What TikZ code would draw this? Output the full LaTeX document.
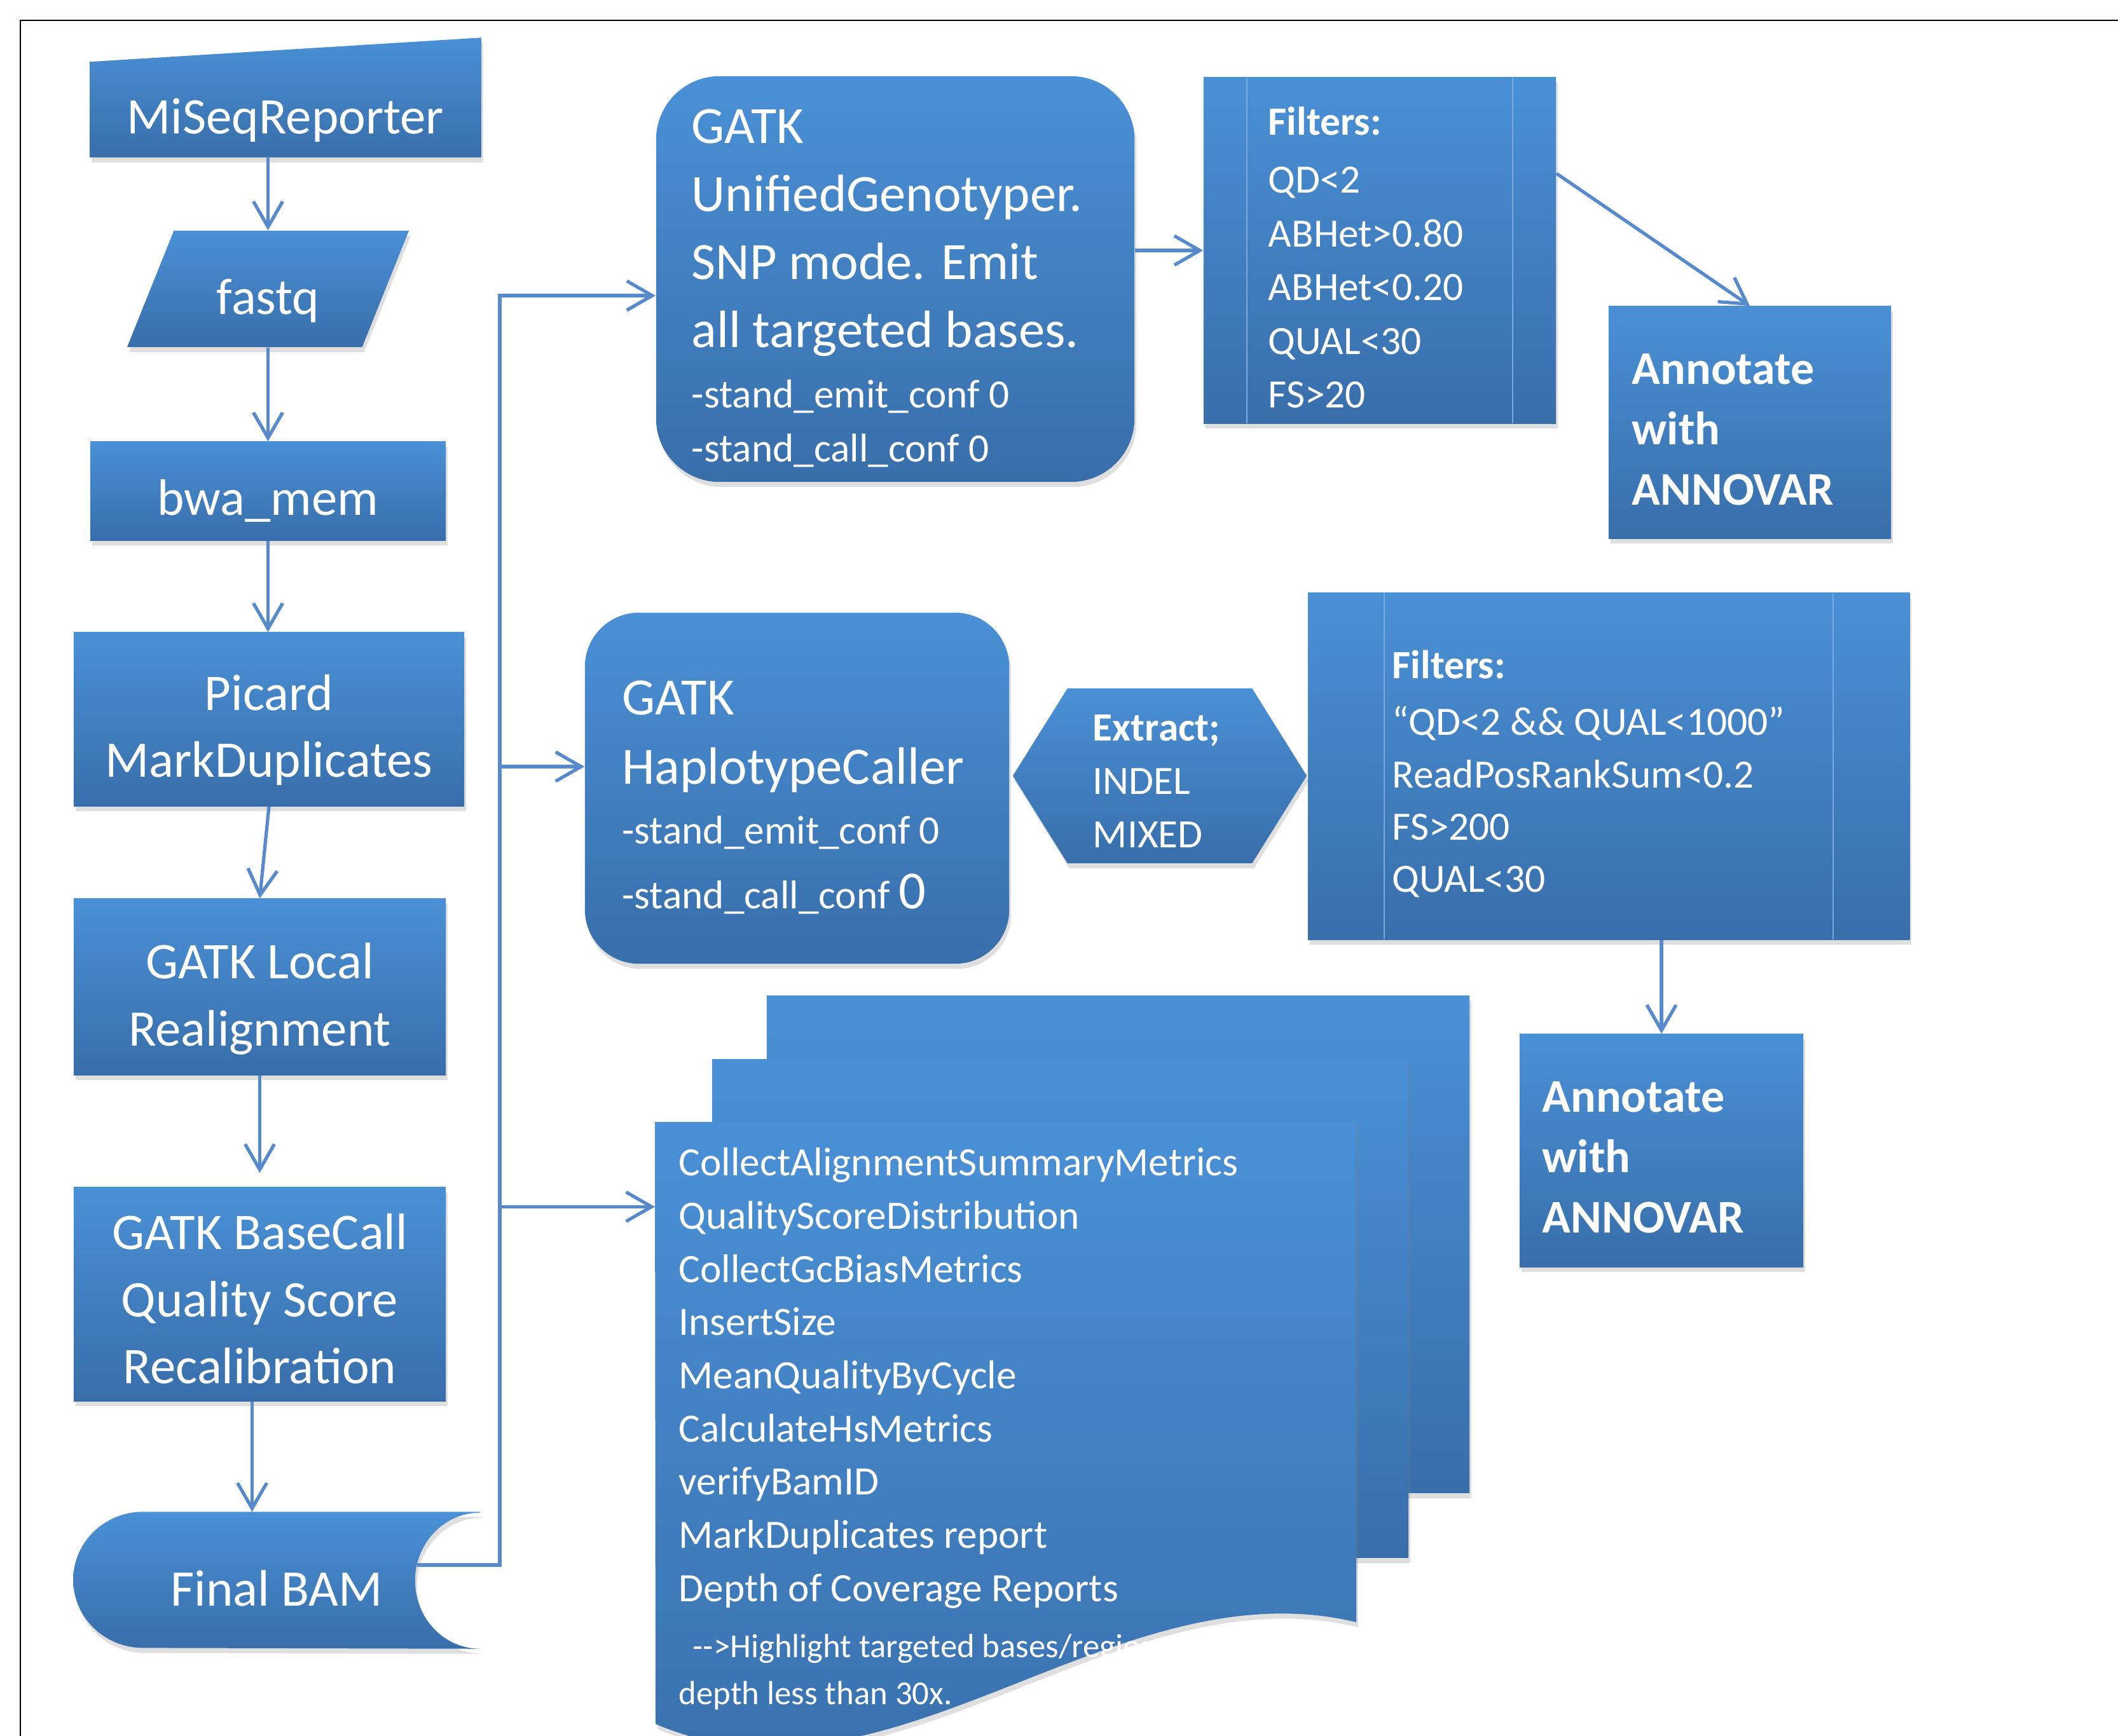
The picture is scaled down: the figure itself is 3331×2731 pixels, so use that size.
\documentclass[tikz,border=0pt]{standalone}
\usepackage{fontspec}
\setmainfont{Carlito}
\setlength{\parindent}{0pt}
\usetikzlibrary{shapes.geometric,shapes.symbols,shadows,backgrounds,arrows.meta}

\definecolor{boxtop}{RGB}{74,144,214}
\definecolor{boxbottom}{RGB}{56,110,170}
\definecolor{boxline}{RGB}{120,170,225}
\definecolor{linkblue}{RGB}{86,138,204}

\def\bigtext{\fontsize{23}{30}\selectfont}
\def\gatktext{\fontsize{23.5}{30.5}\selectfont}
\def\smalltext{\fontsize{18}{24}\selectfont}
\def\annotext{\fontsize{21}{27}\selectfont\bfseries}
\def\dropby#1{\endgraf\nointerlineskip\vspace*{#1}}

\begin{document}
\begin{tikzpicture}[x=0.01cm, y=-0.01cm,
	bluebox/.style={rectangle, top color=boxtop, bottom color=boxbottom,
		text=white, inner sep=0pt,
		drop shadow={shadow xshift=0.03cm, shadow yshift=-0.08cm, opacity=0.25}},
	plain/.style={rectangle, text=white, inner sep=0pt},
	pagefill/.style={top color=boxtop, bottom color=boxbottom,
		drop shadow={shadow xshift=0.03cm, shadow yshift=-0.08cm, opacity=0.25}},
	textdrop/.style={execute at begin node={\dropby{#1}}},
	stepbox/.style={bluebox, align=flush center, font=\bigtext},
	procbox/.style={bluebox, path picture={
		\draw[boxline, line width=0.6pt]
			([xshift=#1]path picture bounding box.north west) -- ([xshift=#1]path picture bounding box.south west)
			([xshift=-#1]path picture bounding box.north east) -- ([xshift=-#1]path picture bounding box.south east);
		}},
	flow/.style={draw=linkblue, line width=1.5pt, -{Straight Barb[length=4mm, width=4.6mm]}},
	]
	\useasboundingbox (0,0) rectangle (3331,2731);
	\draw[line width=0.6pt] (32,2731) -- (32,32) -- (3331,32);

	% left column
	\node[plain, minimum width=6.14cm, minimum height=1.49cm, font=\bigtext, text width=6cm,
		align=flush center, textdrop=0.33cm] (mi) at (449,172.5) {MiSeqReporter};
	\node[stepbox, trapezium, trapezium left angle=65, trapezium right angle=115, trapezium stretches=true,
		minimum width=4.45cm, minimum height=1.83cm, text width=2cm, textdrop=0.38cm] (fastq) at (421.5,454.5) {fastq};
	\node[stepbox, minimum width=5.59cm, minimum height=1.55cm, text width=5.4cm, textdrop=0.3cm] (bwa) at (421.5,772.5) {bwa\_mem};
	\node[stepbox, minimum width=6.14cm, minimum height=2.73cm, text width=6cm, textdrop=0.34cm] (picard) at (423,1131.5) {Picard\\MarkDuplicates};
	\node[stepbox, minimum width=5.85cm, minimum height=2.77cm, text width=5.7cm, textdrop=0.38cm] (local) at (408.5,1552.5) {GATK Local\\Realignment};
	\node[stepbox, minimum width=5.85cm, minimum height=3.36cm, text width=5.7cm, textdrop=0.15cm] (bqsr) at (408.5,2036) {GATK BaseCall\\Quality Score\\Recalibration};
	\node[plain, minimum width=6.38cm, minimum height=2.14cm, font=\bigtext, text width=6cm,
		align=flush center, textdrop=0.26cm] (bam) at (435,2486) {Final BAM};

	% SNP branch
	\node[bluebox, rounded corners=1cm, minimum width=7.52cm, minimum height=6.38cm,
		text width=6.4cm, align=flush left, textdrop=0.28cm] (ug) at (1408,439) {%
		{\gatktext GATK\par UnifiedGenotyper.\par SNP mode. Emit\par all targeted bases.\par}
		{\fontsize{18}{27}\selectfont -stand\_emit\_conf 0\par}
		{\fontsize{18}{24}\selectfont -stand\_call\_conf 0\par}};
	\node[procbox=0.68cm, minimum width=5.54cm, minimum height=5.44cm, text width=3.5cm,
		align=flush left, font=\smalltext, textdrop=0.22cm] (f1) at (2170,394)
		{\textbf{Filters:}\\[2pt] QD<2\\ ABHet>0.80\\ ABHet<0.20\\ QUAL<30\\ FS>20};
	\node[bluebox, minimum width=4.44cm, minimum height=3.65cm, text width=3.7cm,
		align=flush left, font=\annotext, textdrop=0.22cm] (ann1) at (2752,664.5) {Annotate\\with\\ANNOVAR};

	% INDEL branch
	\node[bluebox, rounded corners=0.85cm, minimum width=6.67cm, minimum height=5.52cm,
		text width=5.5cm, align=flush left, textdrop=0.29cm] (hc) at (1253.5,1240) {%
		{\fontsize{23.5}{31}\selectfont GATK\par HaplotypeCaller\par}
		{\fontsize{18}{26.7}\selectfont -stand\_emit\_conf 0\par}
		{\fontsize{18}{29}\selectfont -stand\_call\_conf {\fontsize{24}{24}\selectfont 0}\par}};
	\node[bluebox, signal, signal to=west and east, signal pointer angle=116,
		minimum width=4.62cm, minimum height=2.75cm, text width=2.1cm, align=flush left,
		font=\smalltext, textdrop=0.17cm] (ext) at (1824,1220.5)
		{\textbf{Extract;}\\ INDEL\\ MIXED};
	\node[procbox=1.2cm, minimum width=9.46cm, minimum height=5.45cm, text width=6.8cm,
		align=flush left, font=\fontsize{18}{23.4}\selectfont, textdrop=0.24cm] (f2) at (2530,1205.5)
		{\textbf{Filters:}\\[2pt] “QD<2 \&\& QUAL<1000”\\ ReadPosRankSum<0.2\\ FS>200\\ QUAL<30};
	\node[bluebox, minimum width=4.46cm, minimum height=3.66cm, text width=3.74cm,
		align=flush left, font=\annotext, textdrop=0.22cm] (ann2) at (2613,1810) {Annotate\\with\\ANNOVAR};

	% QC reports
	\node[plain, minimum width=11.01cm, minimum height=7.85cm] (qc) at (1581.5,2158.5) {};
	\node[plain, anchor=north west, text width=11cm, align=flush left] (qclist) at (1067,1805) {%
		{\fontsize{18}{23.8}\selectfont CollectAlignmentSummaryMetrics\par
		QualityScoreDistribution\par
		CollectGcBiasMetrics\par
		InsertSize\par
		MeanQualityByCycle\par
		CalculateHsMetrics\par
		verifyBamID\par
		MarkDuplicates report\par
		Depth of Coverage Reports\par}
		{\fontsize{15}{25}\selectfont \hspace*{0.22cm}\mbox{-}\mbox{-}>Highlight targeted bases/regions with\par}
		{\fontsize{15}{21}\selectfont depth less than 30x.\par}};

	\begin{pgfonlayer}{background}
		\shade[pagefill] (mi.south west) -- (mi.south east) -- ([yshift=0.38cm]mi.north east) -- (mi.north west) -- cycle;
		\shade[pagefill] (bam.north east) -- ([xshift=1.1cm]bam.north west)
			arc[start angle=90, end angle=270, x radius=1.1cm, y radius=1.07cm] -- (bam.south east)
			arc[start angle=270, end angle=90, x radius=1.02cm, y radius=1.07cm] -- cycle;
		% the stacked pages:
		\shade[pagefill] ([shift={(176,-199)}]qc.north west) rectangle ([shift={(178,-203)}]qc.south east);
		\shade[pagefill] ([shift={(90,-99)}]qc.north west) rectangle ([shift={(82,-101)}]qc.south east);
		\shade[pagefill] (qc.north west) -- (qc.north east) -- (qc.south east)
			.. controls (1750,2460) and (1400,2870) .. (1031,2712) -- cycle;
	\end{pgfonlayer}

	\coordinate (bamout) at ([shift={(-99,-24)}]bam.east);
	\coordinate (bus) at (786,0);
	\coordinate (ugin) at ([yshift=-0.26cm]ug.west);
	\coordinate (hcin) at ([yshift=0.34cm]hc.west);
	\coordinate (qcin) at ([yshift=2.6cm]qc.west);

	\draw[flow] (fastq.center |- mi.south) -- (fastq.center |- fastq.north);
	\draw[flow] (fastq.center |- fastq.south) -- (bwa.north);
	\draw[flow] (bwa.south) -- (bwa.south |- picard.north);
	\draw[flow] (picard.south) -- (local.north);
	\draw[flow, shorten >=0.22cm] (local.south) -- (bqsr.north);
	\draw[flow] ([xshift=-0.12cm]bqsr.south) -- ([xshift=-0.12cm]bqsr.south |- bam.north);
	\draw[flow] (bamout) -| (bus |- ugin) -- (ugin);
	\draw[flow] (bus |- hcin) -- (hcin);
	\draw[flow] (bus |- qcin) -- (qcin);
	\draw[flow] (ug.east |- f1.west) -- (f1.west);
	\draw[flow] ([yshift=1.21cm]f1.east) -- (ann1.north);
	\draw[flow] (ann2.north |- f2.south) -- (ann2.north);
\end{tikzpicture}
\end{document}
